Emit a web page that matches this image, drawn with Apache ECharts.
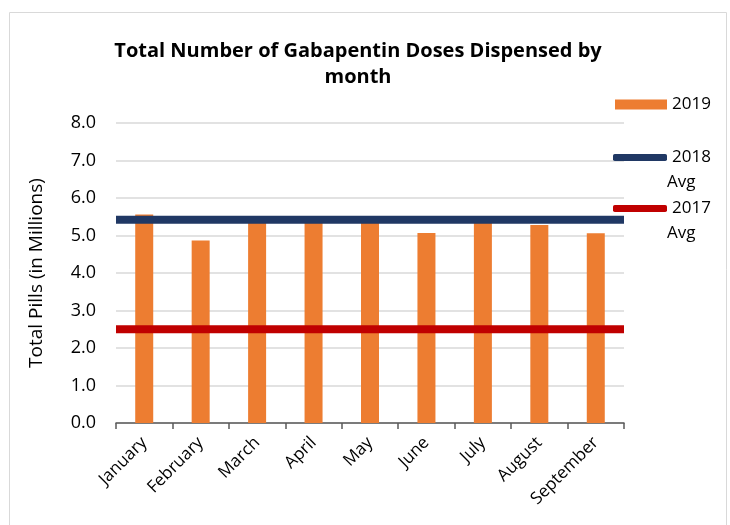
<!DOCTYPE html>
<html>
<head>
<meta charset="utf-8">
<script src="https://cdn.jsdelivr.net/npm/echarts@6/dist/echarts.min.js"></script>
<style>
  html, body { margin: 0; padding: 0; background: #fff; }
  #chart { width: 730px; height: 525px; }
</style>
</head>
<body>
<div id="chart"></div>
<script>
const months = ['January', 'February', 'March', 'April', 'May', 'June', 'July', 'August', 'September'];
const doses2019 = [5.56, 4.87, 5.38, 5.40, 5.41, 5.07, 5.40, 5.28, 5.06];
const avg2018 = 5.42;
const avg2017 = 2.5;
const yTicks = [0, 8, 1]; // min, max, interval

const font = 'Open Sans';
const chart = echarts.init(document.getElementById('chart'));

// legend text style shared by the three entries
const legendText = { fontSize: 17, color: '#000' };

chart.setOption({
    animation: false,
    textStyle: { fontFamily: font },
    title: {
        text: 'Total Number of Gabapentin Doses Dispensed by\nmonth',
        left: 353,
        textAlign: 'center',
        top: 33,
        textStyle: { fontSize: 20, fontWeight: 'bold', color: '#000', lineHeight: 26, fontFamily: font }
    },
    graphic: [
        {
            type: 'rect',
            shape: { x: 9.5, y: 12.5, width: 717, height: 520 },
            style: { fill: 'none', stroke: '#d9d9d9', lineWidth: 1 }
        },
        // second line of the two legend labels
        { type: 'text', left: 667, top: 174, style: { text: 'Avg', fontSize: 17, fill: '#000', fontFamily: font } },
        { type: 'text', left: 667, top: 225, style: { text: 'Avg', fontSize: 17, fill: '#000', fontFamily: font } }
    ],
    legend: [
        {
            data: ['2019'], left: 610, top: 91, icon: 'rect', itemWidth: 52, itemHeight: 10, itemGap: 5,
            textStyle: legendText
        },
        {
            data: ['2018 Avg'], left: 608, top: 144, icon: 'roundRect', itemWidth: 54, itemHeight: 7, itemGap: 5,
            formatter: () => '2018',
            textStyle: legendText
        },
        {
            data: ['2017 Avg'], left: 608, top: 195, icon: 'roundRect', itemWidth: 54, itemHeight: 7, itemGap: 5,
            formatter: () => '2017',
            textStyle: legendText
        }
    ],
    grid: { left: 116, top: 123, width: 508, height: 300 },
    xAxis: [
        {
            type: 'category',
            data: months,
            axisLine: { lineStyle: { color: '#595959', width: 1.5 } },
            axisTick: { show: true, length: 6, lineStyle: { color: '#595959', width: 1.5 } },
            axisLabel: { rotate: 45, fontSize: 17, color: '#000', margin: 17 }
        },
        {
            type: 'category',
            data: months,
            show: false,
            boundaryGap: false
        }
    ],
    yAxis: {
        type: 'value',
        min: yTicks[0], max: yTicks[1], interval: yTicks[2],
        name: 'Total Pills (in Millions)',
        nameLocation: 'middle',
        nameGap: 70,
        nameTextStyle: { fontSize: 19, color: '#000' },
        axisLine: { show: false },
        axisTick: { show: false },
        axisLabel: { fontSize: 18, color: '#000', margin: 20, formatter: v => v.toFixed(1) },
        splitLine: { lineStyle: { color: '#d9d9d9', width: 1.5 } }
    },
    series: [
        {
            name: '2019',
            type: 'bar',
            data: doses2019,
            barWidth: 18,
            itemStyle: { color: '#ed7d31' }
        },
        {
            name: '2018 Avg',
            type: 'line',
            xAxisIndex: 1,
            data: months.map(() => avg2018),
            symbol: 'none',
            lineStyle: { color: '#203864', width: 8 },
            itemStyle: { color: '#203864' }
        },
        {
            name: '2017 Avg',
            type: 'line',
            xAxisIndex: 1,
            data: months.map(() => avg2017),
            symbol: 'none',
            lineStyle: { color: '#c00000', width: 8 },
            itemStyle: { color: '#c00000' }
        }
    ]
});
</script>
</body>
</html>
